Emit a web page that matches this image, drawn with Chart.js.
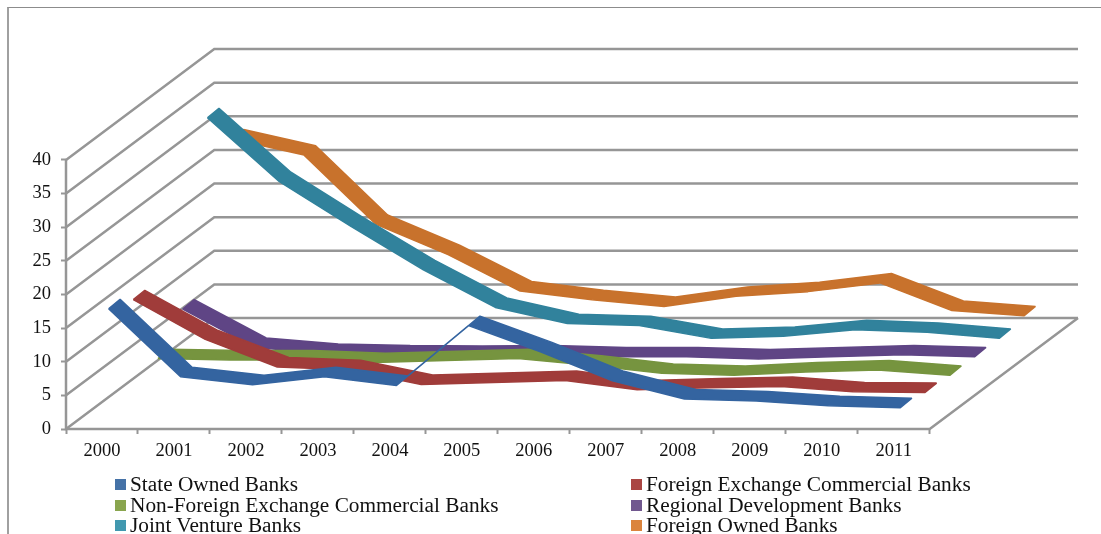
<!DOCTYPE html>
<html>
<head>
<meta charset="utf-8">
<title>Bank groups 2000-2011</title>
<script src="https://cdn.jsdelivr.net/npm/chart.js@4"></script>
<style>
  html, body { margin: 0; background: #fff; overflow: hidden; }
  #wrap { position: relative; width: 1101px; height: 534px; overflow: hidden; }
  #wrap canvas { position: absolute; left: 0; top: 0; }
  #frame { position: absolute; left: 7px; top: 7px; width: 1100px; height: 540px;
           border-left: 2px solid #a0a0a0; border-top: 1px solid #8c8c8c; }
  .key { position: absolute; font: 21.3px/24px "Liberation Serif", serif; color: #111; white-space: nowrap; }
  .key i { position: absolute; left: -15px; top: 7px; width: 11px; height: 11px; }
</style>
</head>
<body>
<div id="wrap">
  <div id="frame"></div>
  <canvas id="chart" width="1101" height="534"></canvas>
</div>
<script>
const years = ["2000", "2001", "2002", "2003", "2004", "2005", "2006", "2007", "2008", "2009", "2010", "2011"];
const yTicks = [0, 5, 10, 15, 20, 25, 30, 35, 40];

const stateOwned = [17.2, 7.1, 5.9, 7.1, 5.8, 14.7, 10.8, 6.5, 3.8, 3.5, 2.8, 2.5];
const foreignExchange = [15.8, 9.9, 5.8, 5.4, 3.2, 3.5, 3.8, 2.4, 2.7, 2.9, 2.1, 2.0];
const nonForeignExchange = [4.3, 4.1, 4.1, 3.7, 4.0, 4.3, 3.3, 2.1, 1.8, 2.3, 2.6, 1.8];
const regionalDevelopment = [8.9, 3.2, 2.3, 2.1, 2.0, 2.1, 1.8, 1.8, 1.5, 1.8, 2.1, 1.8];
const jointVenture = [34.6, 25.1, 18.4, 12.0, 6.4, 4.0, 3.7, 1.8, 2.1, 3.1, 2.7, 1.8];
const foreignOwned = [28.7, 26.3, 16.0, 11.5, 6.1, 4.8, 3.8, 5.3, 6.0, 7.3, 3.2, 2.4];

const names = ["State Owned Banks", "Foreign Exchange Commercial Banks", "Non-Foreign Exchange Commercial Banks",
  "Regional Development Banks", "Joint Venture Banks", "Foreign Owned Banks"];
const values = [stateOwned, foreignExchange, nonForeignExchange, regionalDevelopment, jointVenture, foreignOwned];
const ribbonColors = ["#3464a0", "#a03c3a", "#76943f", "#5f4585", "#31829c", "#c8722c"];
const keyColors = ["#4572a7", "#aa4643", "#89a54e", "#71588f", "#4198af", "#db843d"];

// the chart's flat scales carry the oblique view: depth is a shear in x and y
const DEPTH_X = 2.06;
const DEPTH_Y = 16.5;
const RIBBON_X = 0.08;
const RIBBON_Y = 0.7;
const GRID = "#969696";

function ribbon(vals, s) {
  const cx = (s + 0.5) * DEPTH_X / values.length;
  const cy = (s + 0.5) * DEPTH_Y / values.length;
  const front = vals.map((v, i) => ({ x: i + 0.5 + cx - RIBBON_X, y: v + cy - RIBBON_Y }));
  const back = vals.map((v, i) => ({ x: i + 0.5 + cx + RIBBON_X, y: v + cy + RIBBON_Y })).reverse();
  return [...front, ...back, front[0]];
}

function gridLine(data) {
  return { data, borderColor: GRID, borderWidth: 2.5, fill: false, pointRadius: 0, clip: false };
}

const n = years.length;
const datasets = values.map((vals, s) => ({
  label: names[s],
  data: ribbon(vals, s),
  borderColor: ribbonColors[s],
  backgroundColor: ribbonColors[s],
  borderWidth: 1.5,
  borderJoinStyle: "bevel",
  fill: "shape",
  pointRadius: 0,
  clip: false,
}));

// wall and floor lines, then the front axis and the floor edge
yTicks.forEach((t) => {
  datasets.push(gridLine([{ x: 0, y: t }, { x: DEPTH_X, y: t + DEPTH_Y }, { x: n + DEPTH_X, y: t + DEPTH_Y }]));
});
datasets.push(gridLine([{ x: 0, y: yTicks[yTicks.length - 1] }, { x: 0, y: 0 }, { x: n, y: 0 }, { x: n + DEPTH_X, y: DEPTH_Y }]));

new Chart(document.getElementById("chart"), {
  type: "scatter",
  data: { datasets },
  options: {
    responsive: false,
    animation: false,
    showLine: true,
    layout: { padding: { top: 49, right: 23 } },
    elements: { line: { tension: 0 } },
    plugins: { legend: { display: false }, tooltip: { enabled: false } },
    scales: {
      x: {
        type: "linear",
        min: 0,
        max: n + DEPTH_X,
        border: { display: false },
        grid: {
          drawOnChartArea: false,
          tickLength: 5,
          tickWidth: 2,
          tickColor: (c) => (Number.isInteger(c.tick.value) ? GRID : "transparent"),
        },
        afterBuildTicks(scale) {
          const ticks = [];
          for (let i = 0; i <= n; i++) {
            ticks.push({ value: i });
            if (i < n) ticks.push({ value: i + 0.5 });
          }
          scale.ticks = ticks;
        },
        afterFit(scale) { scale.height = 105; },
        ticks: {
          autoSkip: false,
          maxRotation: 0,
          padding: 6,
          color: "#111",
          font: { family: "Liberation Serif", size: 18.5 },
          callback: (v) => (Number.isInteger(v) ? "" : years[Math.floor(v)]),
        },
      },
      y: {
        type: "linear",
        min: 0,
        max: 40 + DEPTH_Y,
        border: { display: false },
        grid: { drawOnChartArea: false, tickLength: 5, tickWidth: 2, tickColor: GRID },
        afterBuildTicks(scale) { scale.ticks = yTicks.map((value) => ({ value })); },
        afterFit(scale) { scale.width = 66; },
        ticks: {
          padding: 10,
          color: "#111",
          font: { family: "Liberation Serif", size: 18.5 },
        },
      },
    },
  },
});

// legend keys in two columns under the axis
const wrap = document.getElementById("wrap");
names.forEach((name, s) => {
  const key = document.createElement("div");
  key.className = "key";
  key.style.left = (s % 2 ? 646 : 130) + "px";
  key.style.top = 472 + Math.floor(s / 2) * 20.5 + "px";
  key.textContent = name;
  const box = document.createElement("i");
  box.style.background = keyColors[s];
  key.prepend(box);
  wrap.append(key);
});
</script>
</body>
</html>
